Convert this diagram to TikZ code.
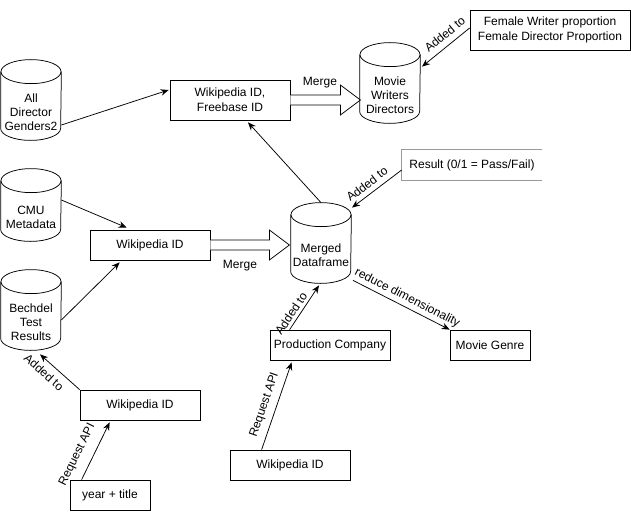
\documentclass[tikz,border=0pt]{standalone}
\usepackage{fontspec}
\setmainfont{Liberation Sans}
\usepackage{tikz}
\usetikzlibrary{shapes.geometric,arrows.meta,positioning,calc}
\tikzset{
  dbnode/.style={
    rectangle, minimum width=60pt, minimum height=56pt, inner sep=0pt,
    align=center, font=\fontsize{12}{14}\selectfont,
    append after command={\pgfextra{
      \draw ($(\tikzlastnode.north)+(0,-12)$) ellipse [x radius=30pt, y radius=12pt];
      \draw ($(\tikzlastnode.north west)+(0,-12)$) -- ($(\tikzlastnode.south west)+(0,-12)$)
        arc [start angle=180, end angle=360, x radius=30pt, y radius=12pt]
        -- ($(\tikzlastnode.north east)+(0,-12)$);
    }}
  },
  stepbox/.style={
    rectangle, draw=black, minimum width=120pt, minimum height=30pt,
    align=center, inner sep=2pt, font=\fontsize{12}{15}\selectfont
  },
  flowarrow/.style={-{Stealth[length=8pt,width=6.5pt]}, draw=black},
  flowlabel/.style={font=\fontsize{12}{14}\selectfont, inner sep=1pt},
  fatarrow/.style={draw=black, fill=white, line join=miter},
}
\begin{document}
\begin{tikzpicture}[x=1pt, y=-1pt, line width=0.75pt]
  \useasboundingbox (0,0) rectangle (631,511);
  % data sources
  \node (dbdir) [dbnode] at (31,112) {All\\Director\\Genders2};
  \node (dbcmu) [dbnode, minimum height=48pt] at (31,217) {CMU\\Metadata};
  \node (dbbech) [dbnode] at (31,322) {Bechdel\\Test\\Results};
  \node (dbmovie) [dbnode] at (390,95) {Movie\\Writers\\Directors};
  \node (dbmerged) [dbnode] at (321,255) {Merged\\Dataframe};
  % boxes
  \node (wikifb) [stepbox, minimum height=40pt] at (230,100) {Wikipedia ID,\\Freebase ID};
  \node (wikimid) [stepbox] at (150,245) {Wikipedia ID};
  \node (wikileft) [stepbox] at (140,405) {Wikipedia ID};
  \node (yeartitle) [stepbox, minimum width=80pt] at (110,495) {year + title};
  \node (wikibot) [stepbox] at (290,465) {Wikipedia ID};
  \node (prodco) [stepbox] at (330,345) {Production Company};
  \node (genre) [stepbox, minimum width=80pt] at (490,345) {Movie Genre};
  \node (female) [stepbox, minimum width=160pt, minimum height=40pt] at (550,30)
    {Female Writer proportion\\Female Director Proportion};
  \node (result) [stepbox, draw=none, minimum width=140pt] at (472,165) {Result (0/1 = Pass/Fail)};
  \draw[gray!80] (result.north east) -- (result.north west) -- (result.south west) -- (result.south east);
  % merge arrows
  \draw[fatarrow] ($(wikifb.east)+(0,-5)$) -- ++(50,0) -- ++(0,-10) -- ($(wikifb.east)+(70,0)$)
    -- ++(-20,15) -- ++(0,-10) -- ($(wikifb.east)+(0,5)$);
  \node (mergetop) [flowlabel] at (320,83) {Merge};
  \draw[fatarrow] ($(wikimid.east)+(0,-5)$) -- ++(59,0) -- ++(0,-10) -- ($(wikimid.east)+(79,0)$)
    -- ++(-20,15) -- ++(0,-10) -- ($(wikimid.east)+(0,5)$);
  \node (mergemid) [flowlabel] at (240,266) {Merge};
  % connectors
  \draw[flowarrow] ($(dbdir.east)+(0,13)$) -- ($(wikifb.west)+(-1,-10)$);
  \draw[flowarrow] ($(dbcmu.east)+(0,-17)$) -- ($(wikimid.north west)+(37,-2)$);
  \draw[flowarrow] ($(dbbech.east)+(0,-2)$) -- ($(wikimid.south west)+(30,2)$);
  \draw[flowarrow] (wikileft.north west) -- node[flowlabel, pos=0.72, sloped, below=5pt] {Added to}
    ($(dbbech.south)+(9,4)$);
  \draw[flowarrow] ($(yeartitle.north west)+(12,0)$) -- node[flowlabel, pos=0.32, sloped, above=8pt] {Request API}
    ($(wikileft.south west)+(30,2)$);
  \draw[flowarrow] ($(wikibot.north west)+(32,0)$) -- node[flowlabel, pos=0.47, sloped, above=5pt] {Request API}
    ($(prodco.south west)+(22,2)$);
  \draw[flowarrow] ($(prodco.north west)+(20,0)$) -- node[flowlabel, pos=0.27, sloped, above=2pt] {Added to}
    ($(dbmerged.south)+(-2,2)$);
  \draw[flowarrow] ($(dbmerged.north)+(0,-24)$) -- ($(wikifb.south)+(18,2)$);
  \draw[flowarrow] ($(result.west)+(0,5)$) -- node[flowlabel, pos=0.58, sloped, above=4pt] {Added to}
    ($(dbmerged.north)+(31,-19)$);
  \draw[flowarrow] ($(female.west)+(0,-2)$) -- node[flowlabel, pos=0.38, sloped, above=5pt] {Added to}
    ($(dbmovie.north)+(32,0)$);
  \draw[flowarrow] ($(dbmerged.south)+(32,-3)$) -- node[flowlabel, pos=0.52, sloped, above=2pt] {reduce dimensionality}
    (genre.north west);
\end{tikzpicture}
\end{document}
